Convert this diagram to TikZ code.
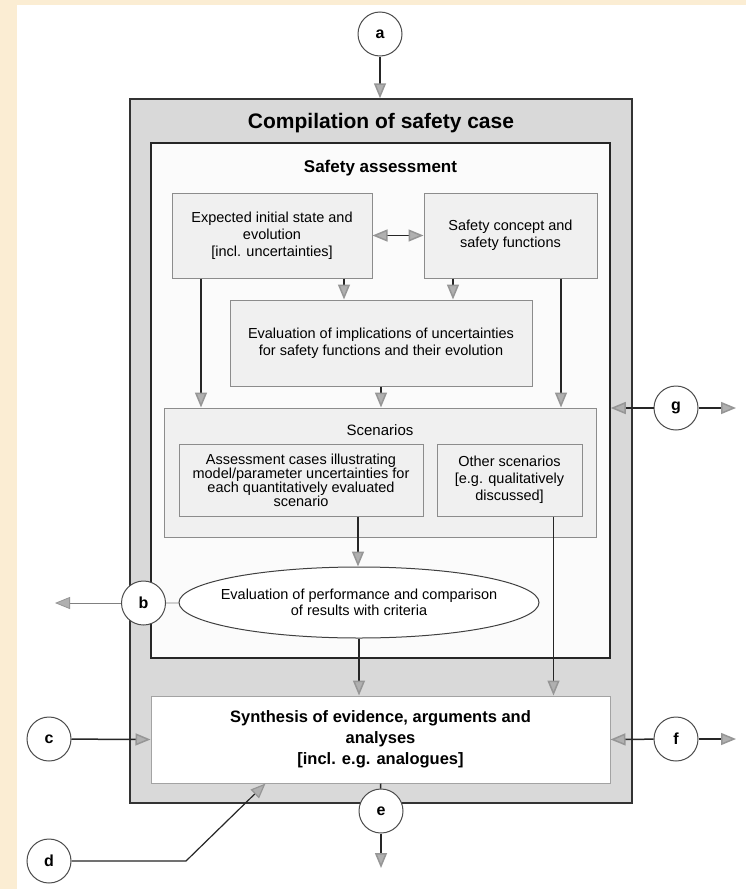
\documentclass[tikz,border=0pt]{standalone}
\usepackage{fontspec}
\setmainfont{Liberation Sans}
\usetikzlibrary{arrows.meta}
\usetikzlibrary{shapes.geometric, positioning}
\definecolor{paper}{HTML}{FBEDD3}
\definecolor{outerfill}{HTML}{D9D9D9}
\definecolor{innerfill}{HTML}{FBFBFB}
\definecolor{boxfill}{HTML}{F0F0F0}
\definecolor{boxline}{HTML}{8C8C8C}
\definecolor{tipfill}{HTML}{B0B0B0}
\definecolor{tipline}{HTML}{969696}

\begin{document}
\begin{tikzpicture}[x=1pt, y=-1pt,
    >={Triangle[length=15pt, width=12pt, color=tipline, fill=tipfill]},
    box/.style={rectangle, draw=boxline, fill=boxfill, line width=1pt, inner sep=0pt, align=center, font=\fontsize{14.5}{17}\selectfont},
    port/.style={circle, draw=black!70, fill=white, line width=1pt, minimum size=44pt, inner sep=0pt, font=\bfseries\fontsize{16}{18}\selectfont},
    link/.style={line width=1.5pt, draw=black!85},
    flow/.style={link, ->},
    faint/.style={line width=0.8pt, draw=gray}]
    % Page and margins
    \useasboundingbox (0,0) rectangle (746,889);
    \fill[paper] (0,0) rectangle (746,889);
    \fill[white] (17,5) rectangle (746,889);

    % Define nodes
    \node[rectangle, draw=black!80, fill=outerfill, line width=1.5pt, minimum width=502pt, minimum height=704pt] (compil) at (381,451) {};
    \node[font=\bfseries\fontsize{21}{24}\selectfont] (compiltitle) at (381,123) {Compilation of safety case};
    \node[rectangle, draw=black!85, fill=innerfill, line width=1.5pt, minimum width=459pt, minimum height=515pt] (safety) at (380.5,400.5) {};
    \node[font=\bfseries\fontsize{17}{20}\selectfont] (safetytitle) at (380.5,168) {Safety assessment};

    \node[box, minimum width=200pt, minimum height=85pt] (expect) at (272,235.5) {Expected initial state and\\ evolution\\ {[incl. uncertainties]}};
    \node[box, minimum width=173pt, minimum height=85pt, right=51pt of expect] (concept) {Safety concept and\\ safety functions};
    \node[box, minimum width=302pt, minimum height=86pt] (implic) at (381,343) {Evaluation of implications of uncertainties\\ for safety functions and their evolution};

    \node[box, minimum width=432pt, minimum height=129pt] (scen) at (380,472.5) {};
    \node[font=\fontsize{15}{18}\selectfont] (scentitle) at (380,430) {Scenarios};
    \node[box, font=\fontsize{14.5}{14}\selectfont, minimum width=244pt, minimum height=72pt] (cases) at (301,480) {Assessment cases illustrating\\ model/parameter uncertainties for\\ each quantitatively evaluated\\ scenario};
    \node[box, minimum width=145pt, minimum height=72pt, right=13pt of cases] (other) {Other scenarios\\ {[e.g. qualitatively}\\ discussed]};

    \node[ellipse, draw=black!75, fill=white, line width=1pt, minimum width=360pt, minimum height=71pt, inner sep=0pt] (perform) at (359,602.5) {};
    \node[align=center, font=\fontsize{14.5}{16}\selectfont] (performtext) at (perform) {Evaluation of performance and comparison\\ of results with criteria};

    \node[box, fill=white, draw=boxline!80, font=\bfseries\fontsize{16.5}{21}\selectfont, minimum width=459pt, minimum height=87pt] (synth) at (380.5,739.5) {Synthesis of evidence, arguments and\\ analyses\\ {[incl. e.g. analogues]}};

    % Ports
    \node[port] (a) at (380,34) {a};
    \node[port] (b) at (143.5,603) {b};
    \node[port] (c) at (49,739) {c};
    \node[port] (d) at (49,861) {d};
    \node[port] (e) at (381,811) {e};
    \node[port] (f) at (676,739) {f};
    \node[port] (g) at (676,408) {g};

    \coordinate (bout) at (55,603);
    \coordinate (dbend) at (186,861);
    \coordinate (eout) at (381,868);
    \coordinate (fout) at (736,739);
    \coordinate (gout) at (736,408);

    % Connect nodes with arrows
    \draw[flow] (a) -- (a |- compil.north);
    \draw[link, <->] (expect) -- (concept);
    \draw[flow] ([xshift=72pt]expect.south) -- ([xshift=72pt]expect.south |- implic.north);
    \draw[flow] ([xshift=-57.5pt]concept.south) -- ([xshift=-57.5pt]concept.south |- implic.north);
    \draw[flow] ([xshift=-71pt]expect.south) -- ([xshift=-71pt]expect.south |- scen.north);
    \draw[flow] (implic.south) -- (implic.south |- scen.north);
    \draw[flow] ([xshift=50.5pt]concept.south) -- ([xshift=50.5pt]concept.south |- scen.north);
    \draw[flow] ([xshift=57pt]cases.south) -- ([xshift=57pt]cases.south |- perform.north);
    \draw[flow] (perform.south) -- (perform.south |- synth.north);
    \draw[flow] ([xshift=44pt]other.south) -- ([xshift=44pt]other.south |- synth.north);

    \draw[faint, ->] (b) -- (bout);
    \draw[faint] (b) -- (perform);
    \draw[flow] (c) -- (synth.west);
    \draw[flow, line width=1.2pt] (d) -- (dbend) -- ([xshift=-115pt]synth.south);
    \draw[link] (synth.south) -- (e);
    \draw[flow] (e) -- (eout);
    \draw[flow] (f) -- (synth.east);
    \draw[flow] (f) -- (fout);
    \draw[flow] (g) -- (g -| safety.east);
    \draw[flow] (g) -- (gout);
\end{tikzpicture}
\end{document}
